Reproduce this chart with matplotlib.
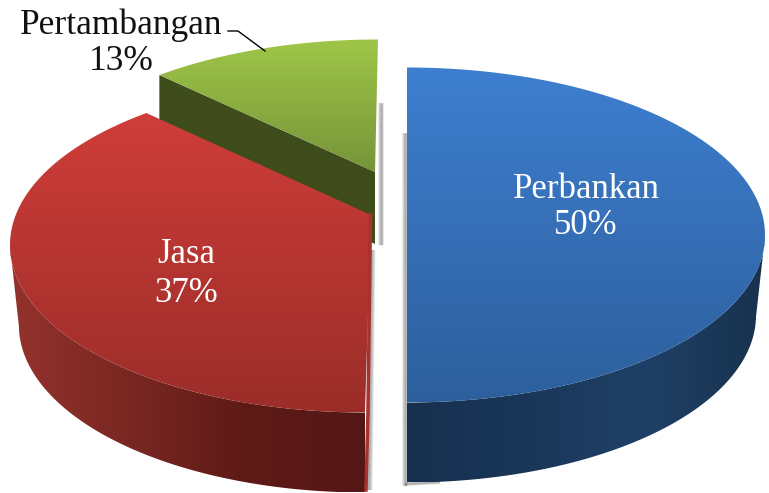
import numpy as np
import matplotlib
matplotlib.use('Agg')
import matplotlib.pyplot as plt
from matplotlib.colors import LinearSegmentedColormap
from matplotlib.patches import PathPatch
from matplotlib.path import Path

categories = ['Perbankan', 'Jasa', 'Pertambangan']
values = [50, 37, 13]

top_colors = [['#3e7fd0', '#2d5f9c'], ['#cf3d39', '#9b2d29'], ['#9fc648', '#769439']]
wall_colors = [['#16304f', '#1a3759', '#1f4066', '#18324e'],
               ['#94322d', '#7a2722', '#5e1a17', '#541715'],
               ['#3f4c1b', '#3f4c1b']]

# layout of each exploded slice, in pixels
centers = [(407, 235), (365, 245), (378, 207)]
apexes = [(407, 235), (371, 215), (375, 172)]
radius_x = [358, 355, 355]
radius_y = 167.5
depths = [80, 80, 72]
bottom_scale = 0.975
warp = 8.8  # perspective squeezes the far side of the pie


def to_screen(a):
    return a + warp * np.sin(np.radians(2 * a))


def fill_gradient(ax, verts, stops, vertical, z):
    verts = np.array(verts)
    patch = PathPatch(Path(np.vstack([verts, verts[0]]), closed=True), fc='none', ec='none',
                      transform=ax.transData)
    ax.add_patch(patch)
    cmap = LinearSegmentedColormap.from_list('g', stops)
    ramp = np.linspace(0, 1, 256)
    ramp = ramp[:, None] if vertical else ramp[None, :]
    x0, y0 = verts.min(axis=0)
    x1, y1 = verts.max(axis=0)
    im = ax.imshow(ramp, cmap=cmap, extent=(x0, x1, y1, y0), aspect='auto', zorder=z,
                   interpolation='bilinear')
    im.set_clip_path(patch)


def soft_line(ax, xs, ys, width):
    # blurred grey shadow, a few see-through strokes on top of each other
    for w in np.linspace(width, 1, 4):
        ax.plot(xs, ys, c='#606060', lw=w, alpha=0.16, solid_capstyle='butt', zorder=1)


fig = plt.figure(figsize=(7.69, 4.93), dpi=100)
ax = fig.add_axes([0, 0, 1, 1])

# soft shadows in the gaps between the slices
soft_line(ax, [381, 381], [103, 245], 4)
soft_line(ax, [405, 405], [133, 486], 4)
soft_line(ax, [405, 440], [484, 482], 3)
soft_line(ax, [372, 369], [250, 490], 5)

total = sum(values)
start = 90.0
order = [2, 1, 0]
for i in range(len(values)):
    sweep = 360.0 * values[i] / total
    a = np.linspace(start, start - sweep, 240)
    start -= sweep
    t = np.radians(to_screen(a))
    cx, cy = centers[i]
    rx = radius_x[i]
    z = 2 + 2 * order[i]
    top_arc = np.column_stack([cx + rx * np.cos(t), cy - radius_y * np.sin(t)])
    low = np.sin(t) <= 1e-9
    if low.any():
        # outer rim, the part facing the viewer
        up = top_arc[low]
        down = np.column_stack([cx + rx * bottom_scale * np.cos(t[low]),
                                cy + depths[i] - radius_y * np.sin(t[low])])
        fill_gradient(ax, np.vstack([up, down[::-1]]), wall_colors[i], False, z)
    else:
        # cut face of a slice sitting at the back
        corner = top_arc[0]
        apex = np.array(apexes[i], dtype=float)
        drop = np.array([0, depths[i]])
        fill_gradient(ax, [corner, apex, apex + drop, corner + drop], wall_colors[i], False, z)
    fill_gradient(ax, np.vstack([apexes[i], top_arc]), top_colors[i], True, z + 1)

# thin lit edge on the cut side of the red slice
ax.plot([370.5, 368, 366], [215, 412, 490], c='#a8322d', lw=2.5, zorder=5)

# labels
label_font = ['Liberation Serif', 'DejaVu Serif']
ax.text(586, 208, f'{categories[0]}\n{values[0]}%', color='white', fontsize=25, family=label_font,
        ha='center', va='center', linespacing=1.12, zorder=20)
ax.text(186, 274, f'{categories[1]}\n{values[1]}%', color='white', fontsize=25, family=label_font,
        ha='center', va='center', linespacing=1.25, zorder=20)
ax.text(121, 43, f'{categories[2]}\n{values[2]}%', color='#111111', fontsize=25.5, family=label_font,
        ha='center', va='center', linespacing=1.12, zorder=20)
ax.plot([228, 238, 265], [31, 31, 51], c='black', lw=1, zorder=20)

ax.set_xlim(0, 769)
ax.set_ylim(493, 0)
ax.axis('off')
fig.savefig('out.png', dpi=100, facecolor='white')
